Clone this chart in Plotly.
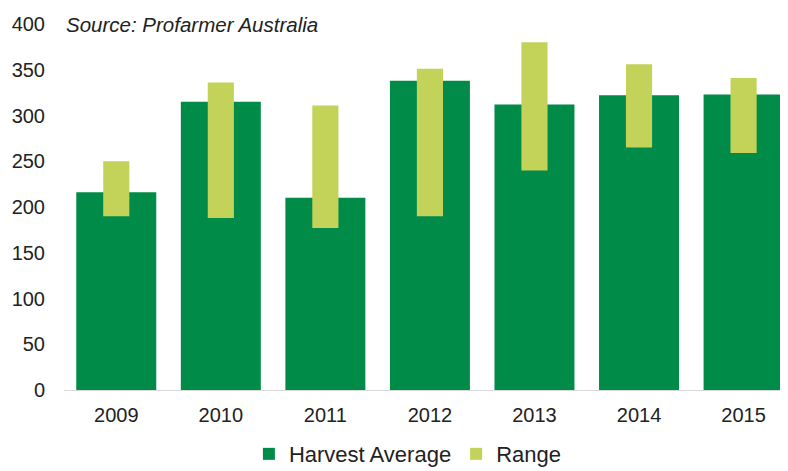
import plotly.graph_objects as go

years = ['2009', '2010', '2011', '2012', '2013', '2014', '2015']
harvest_avg = [216, 315, 210, 338, 312, 322, 323]
range_low = [190, 188, 177, 190, 240, 265, 259]
range_high = [250, 336, 311, 351, 380, 356, 341]

dark_green = '#008b48'
light_green = '#c3d35a'
font_family = 'Liberation Sans, Arial, sans-serif'

range_size = [h - l for h, l in zip(range_high, range_low)]

fig = go.Figure()
fig.add_trace(go.Bar(x=years, y=harvest_avg, name='Harvest Average',
                     marker=dict(color=dark_green, line=dict(width=0)),
                     width=0.765))
fig.add_trace(go.Bar(x=years, y=range_size, base=range_low, name='Range',
                     marker=dict(color=light_green, line=dict(width=0)),
                     width=0.25))

fig.add_annotation(text='<i>Source: Profarmer Australia</i>', xref='paper', yref='y',
                   x=0.0, y=400, xanchor='left', yanchor='middle', showarrow=False,
                   font=dict(size=20.5, color='#222222', family=font_family))

# page body has an 8px margin, so the figure is a bit smaller than the window
fig.update_layout(
    barmode='overlay',
    width=780, height=463,
    margin=dict(l=56, r=0, t=16, b=81, autoexpand=False),
    plot_bgcolor='white', paper_bgcolor='white',
    font=dict(family=font_family, size=20, color='#222222'),
    xaxis=dict(range=[-0.5, 6.425], showline=True, linecolor='#d9d9d9', linewidth=1,
               ticks='', ticklabelstandoff=7, showgrid=False),
    yaxis=dict(range=[0, 400], dtick=50, showgrid=False, zeroline=False,
               ticks='', ticklabelstandoff=18),
    legend=dict(orientation='h', x=0.475, xanchor='center', y=-0.175, yanchor='middle',
                font=dict(size=22), itemwidth=30, traceorder='normal'),
    showlegend=True,
)

fig.write_html('out.html')
